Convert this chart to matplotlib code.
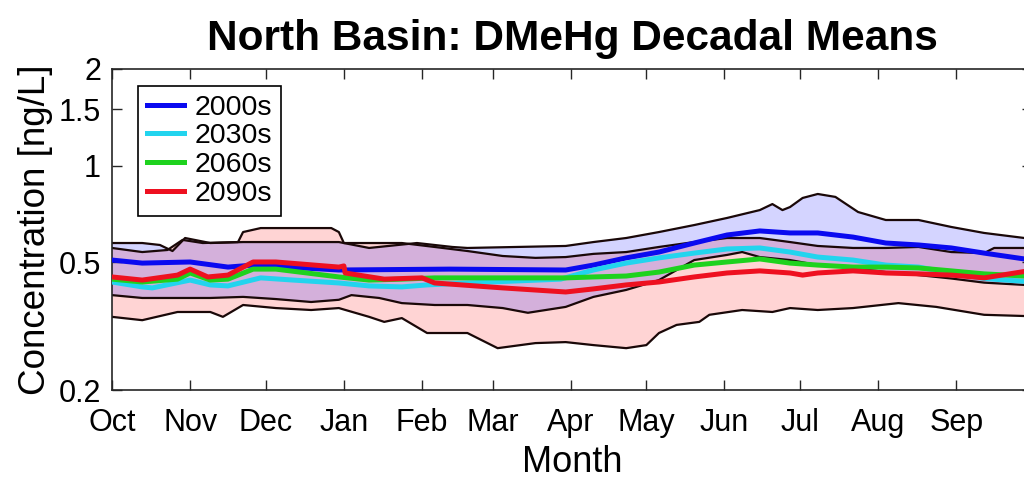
import numpy as np
import matplotlib
matplotlib.use("Agg")
import matplotlib.pyplot as plt
from matplotlib.ticker import NullLocator, FixedLocator, FixedFormatter

plt.rcParams['font.family'] = ['Liberation Sans', 'DejaVu Sans']

# Day of water year (0 = 1 Oct)
month_days = [0, 31, 61, 92, 123, 151, 182, 212, 243, 273, 304, 335]
month_labels = ['Oct', 'Nov', 'Dec', 'Jan', 'Feb', 'Mar', 'Apr', 'May', 'Jun', 'Jul', 'Aug', 'Sep']
y_ticks = [0.2, 0.5, 1, 1.5, 2]
y_tick_labels = ['0.2', '0.5', '1', '1.5', '2']

# Decadal mean DMeHg (ng/L)
days_2000s = [0, 12, 31, 46, 56, 90, 134, 180, 191, 204, 217, 231, 244, 257, 269, 280,
              294, 307, 320, 333, 346, 362, 365]
mean_2000s = [0.508, 0.497, 0.501, 0.483, 0.490, 0.473, 0.476, 0.473, 0.490, 0.516, 0.538,
              0.574, 0.608, 0.626, 0.617, 0.617, 0.599, 0.574, 0.566, 0.554, 0.534, 0.512, 0.510]

days_2030s = [0, 12, 16, 31, 39, 46, 59, 72, 90, 102, 115, 125, 141, 178, 191, 204, 217,
              231, 244, 257, 269, 280, 294, 307, 320, 333, 346, 362, 365]
mean_2030s = [0.434, 0.419, 0.416, 0.440, 0.425, 0.422, 0.447, 0.440, 0.431, 0.422, 0.419,
              0.425, 0.431, 0.443, 0.473, 0.497, 0.516, 0.534, 0.550, 0.554, 0.538, 0.519,
              0.508, 0.490, 0.483, 0.463, 0.445, 0.436, 0.436]

days_2060s = [0, 12, 26, 31, 39, 46, 56, 65, 90, 102, 115, 128, 180, 191, 204, 217, 231,
              244, 257, 269, 280, 294, 307, 320, 333, 346, 362, 365]
mean_2060s = [0.443, 0.434, 0.443, 0.463, 0.440, 0.443, 0.476, 0.476, 0.450, 0.440, 0.443,
              0.447, 0.447, 0.450, 0.453, 0.466, 0.490, 0.501, 0.512, 0.497, 0.490, 0.483,
              0.483, 0.480, 0.470, 0.460, 0.453, 0.453]

days_2090s = [0, 12, 26, 31, 38, 46, 56, 65, 90, 92, 92.5, 108, 123, 128, 155, 180, 191,
              204, 217, 231, 244, 257, 269, 274, 280, 294, 307, 320, 333, 346, 353, 362, 365]
mean_2090s = [0.450, 0.440, 0.456, 0.476, 0.450, 0.456, 0.501, 0.501, 0.483, 0.487, 0.463,
              0.443, 0.447, 0.431, 0.416, 0.404, 0.413, 0.425, 0.434, 0.450, 0.463, 0.470,
              0.463, 0.456, 0.463, 0.470, 0.463, 0.460, 0.456, 0.447, 0.456, 0.468, 0.468]

# Decadal envelopes (min / max)
days_max_2000s = [0, 12, 19, 24, 29, 39, 52, 90, 102, 121, 135, 141, 180, 191, 204, 217,
                  231, 244, 257, 262, 266, 269, 274, 280, 287, 296, 307, 320, 333, 346, 362, 365]
max_2000s = [0.574, 0.574, 0.566, 0.542, 0.595, 0.574, 0.578, 0.578, 0.554, 0.574, 0.558,
             0.554, 0.562, 0.578, 0.595, 0.621, 0.653, 0.687, 0.727, 0.759, 0.727, 0.743,
             0.793, 0.816, 0.799, 0.717, 0.677, 0.677, 0.644, 0.617, 0.595, 0.593]

days_min_2000s = [0, 12, 26, 39, 52, 65, 79, 90, 95, 106, 115, 128, 141, 155, 165, 180,
                  191, 204, 217, 231, 244, 250, 257, 269, 280, 294, 307, 320, 333, 346, 362, 365]
min_2000s = [0.395, 0.387, 0.387, 0.387, 0.390, 0.384, 0.376, 0.382, 0.395, 0.387, 0.373,
             0.368, 0.368, 0.360, 0.348, 0.363, 0.390, 0.410, 0.440, 0.508, 0.527, 0.538,
             0.519, 0.508, 0.490, 0.480, 0.466, 0.456, 0.445, 0.432, 0.425, 0.425]

days_max_2090s = [0, 12, 22, 28, 36, 50, 52, 59, 79, 87, 90, 92, 115, 128, 141, 155, 168,
                  180, 191, 204, 217, 231, 244, 257, 269, 280, 294, 307, 320, 333, 346, 350,
                  362, 365]
max_2090s = [0.554, 0.538, 0.546, 0.587, 0.574, 0.578, 0.621, 0.639, 0.639, 0.639, 0.621,
             0.574, 0.574, 0.558, 0.542, 0.523, 0.516, 0.519, 0.531, 0.538, 0.558, 0.578,
             0.595, 0.595, 0.578, 0.562, 0.554, 0.554, 0.558, 0.538, 0.534, 0.554, 0.554, 0.554]

days_min_2090s = [0, 12, 26, 39, 44, 52, 65, 79, 90, 102, 108, 115, 125, 141, 153, 168,
                  180, 191, 204, 212, 217, 224, 233, 237, 250, 262, 269, 280, 294, 312, 327,
                  346, 362, 365]
min_2090s = [0.338, 0.330, 0.350, 0.350, 0.338, 0.368, 0.360, 0.355, 0.360, 0.338, 0.326,
             0.335, 0.301, 0.301, 0.270, 0.280, 0.282, 0.276, 0.270, 0.276, 0.301, 0.319,
             0.326, 0.343, 0.355, 0.350, 0.360, 0.355, 0.360, 0.373, 0.363, 0.343, 0.340, 0.340]

fig = plt.figure(figsize=(10.24, 4.83), dpi=100)
ax = fig.add_axes([112 / 1024, 93 / 483, 920 / 1024, 321 / 483])


def envelope(ax, d_hi, hi, d_lo, lo, color):
    xs = np.r_[d_hi, d_lo[::-1]]
    ys = np.r_[hi, lo[::-1]]
    ax.fill(xs, ys, color=color, alpha=0.17, lw=0, zorder=1)
    ax.plot(d_hi, hi, color='#1a0808', lw=1.6, zorder=2)
    ax.plot(d_lo, lo, color='#1a0808', lw=1.6, zorder=2)


envelope(ax, days_max_2090s, max_2090s, days_min_2090s, min_2090s, '#ff0000')
envelope(ax, days_max_2000s, max_2000s, days_min_2000s, min_2000s, '#0000ff')

ax.plot(days_2000s, mean_2000s, color='#0a0af0', lw=3.6, label='2000s', zorder=3)
ax.plot(days_2030s, mean_2030s, color='#22d4ee', lw=3.6, label='2030s', zorder=3)
ax.plot(days_2060s, mean_2060s, color='#1ed21e', lw=3.6, label='2060s', zorder=3)
ax.plot(days_2090s, mean_2090s, color='#ee1020', lw=3.6, label='2090s', zorder=3)

ax.set_yscale('log')
ax.set_ylim(0.2, 2)
ax.set_xlim(0, 365)
ax.yaxis.set_major_locator(FixedLocator(y_ticks))
ax.yaxis.set_major_formatter(FixedFormatter(y_tick_labels))
ax.yaxis.set_minor_locator(NullLocator())
ax.set_xticks(month_days)
ax.set_xticklabels(month_labels)

ax.tick_params(axis='both', which='major', direction='in', length=7, width=1.0,
               labelsize=22, top=True, right=True, color='#262626')
ax.tick_params(axis='x', pad=13)
ax.tick_params(axis='y', pad=8)
for s in ax.spines.values():
    s.set_linewidth(1.2)
    s.set_color('#262626')

ax.set_xlabel('Month', fontsize=26, labelpad=5)
ax.set_ylabel('Concentration [ng/L]', fontsize=26.5, labelpad=4)
ax.set_title('North Basin: DMeHg Decadal Means', fontsize=30.5, fontweight='bold', pad=14)

leg = ax.legend(loc='upper left', bbox_to_anchor=((138 - 112) / 920, 1 - (86 - 69) / 321),
                borderaxespad=0, fontsize=20.5, frameon=True, fancybox=False,
                edgecolor='black', framealpha=1, handlelength=1.3, handletextpad=0.4,
                labelspacing=0.1, borderpad=0.3)
leg.get_frame().set_linewidth(1.2)

fig.savefig('out.png', dpi=100)
